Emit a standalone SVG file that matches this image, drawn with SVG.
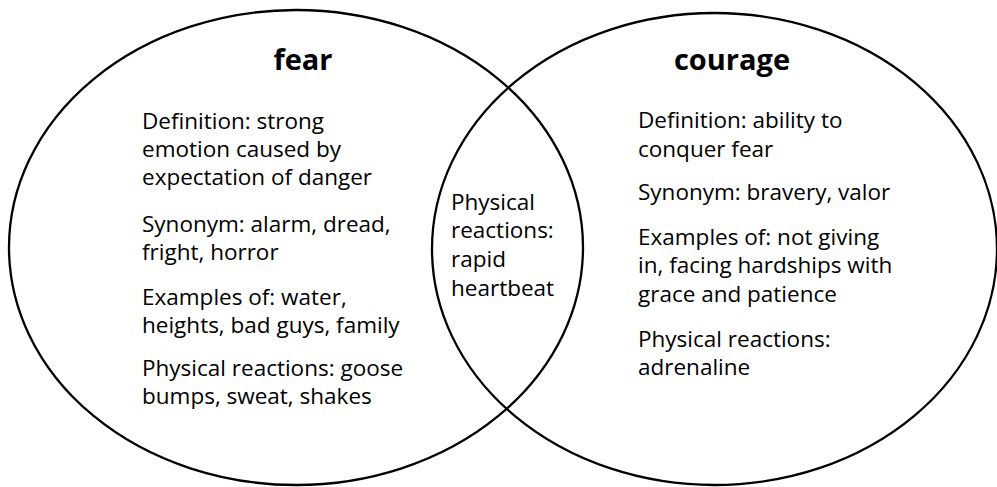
<svg xmlns="http://www.w3.org/2000/svg" width="997" height="487" viewBox="0 0 997 487">
<style>
.c{fill:none;stroke:#000;stroke-width:2.3}
.t{font-family:"Open Sans","Liberation Sans",sans-serif;font-size:22.5px;fill:#000}
.h{font-family:"Open Sans","Liberation Sans",sans-serif;font-size:29px;font-weight:bold;fill:#000;text-anchor:middle}
</style>
<rect width="997" height="487" fill="#fff"/>
<g id="connectors"></g>
<g id="fear">
<ellipse class="c" cx="296" cy="247.5" rx="287" ry="237.5"/>
<text class="h" x="303" y="70">fear</text>
<text class="t" x="142"><tspan x="142" y="129">Definition: strong</tspan><tspan x="142" y="157">emotion caused by</tspan><tspan x="142" y="185">expectation of danger</tspan></text>
<text class="t" x="142"><tspan x="142" y="232">Synonym: alarm, dread,</tspan><tspan x="142" y="260">fright, horror</tspan></text>
<text class="t" x="142"><tspan x="142" y="305">Examples of: water,</tspan><tspan x="142" y="333">heights, bad guys, family</tspan></text>
<text class="t" x="142"><tspan x="142" y="376">Physical reactions: goose</tspan><tspan x="142" y="404">bumps, sweat, shakes</tspan></text>
</g>
<g id="courage">
<ellipse class="c" cx="714.5" cy="249" rx="282.5" ry="236"/>
<text class="h" x="732" y="70">courage</text>
<text class="t" x="638"><tspan x="638" y="128">Definition: ability to</tspan><tspan x="638" y="157">conquer fear</tspan></text>
<text class="t" x="638" y="200">Synonym: bravery, valor</text>
<text class="t" x="638"><tspan x="638" y="245">Examples of: not giving</tspan><tspan x="638" y="273">in, facing hardships with</tspan><tspan x="638" y="302">grace and patience</tspan></text>
<text class="t" x="638"><tspan x="638" y="347">Physical reactions:</tspan><tspan x="638" y="375">adrenaline</tspan></text>
</g>
<g id="overlap">
<text class="t" x="451"><tspan x="451" y="210">Physical</tspan><tspan x="451" y="238">reactions:</tspan><tspan x="451" y="267">rapid</tspan><tspan x="451" y="296">heartbeat</tspan></text>
</g>
</svg>
